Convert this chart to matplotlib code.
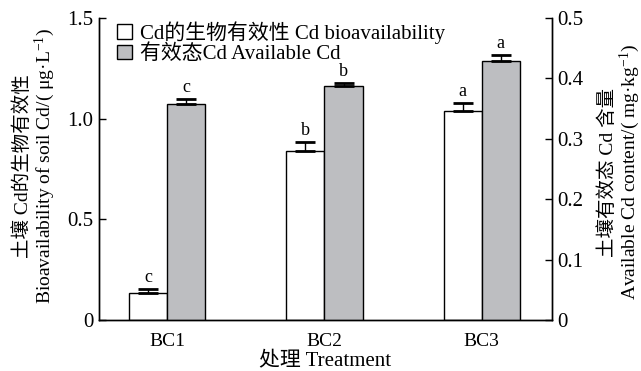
import numpy as np
import matplotlib
matplotlib.use("Agg")
import matplotlib.pyplot as plt
from matplotlib.patches import Patch

plt.rcParams['font.family'] = ['Liberation Serif', 'Noto Sans CJK SC']
plt.rcParams['mathtext.fontset'] = 'custom'
plt.rcParams['mathtext.rm'] = 'Liberation Serif'
plt.rcParams['mathtext.it'] = 'Liberation Serif:italic'

# data
treatments = ['BC1', 'BC2', 'BC3']
bioavail = [0.132, 0.84, 1.04]          # left axis, ug/L
bioavail_err = [0.021, 0.045, 0.04]
bioavail_sig = ['c', 'b', 'a']
avail_cd = [0.357, 0.388, 0.429]        # right axis, mg/kg
avail_cd_err = [0.009, 0.0045, 0.009]
avail_cd_sig = ['c', 'b', 'a']

gray = '#bdbec1'

fig = plt.figure(figsize=(6.41, 3.71), dpi=100)
ax = fig.add_axes([99 / 641, 1 - 320 / 371, (552 - 99) / 641, (320 - 18) / 371])
ax2 = ax.twinx()

x = np.arange(len(treatments))
w = 0.242

ax.bar(x - w / 2, bioavail, w, color='white', edgecolor='black', linewidth=1.0, zorder=2)
ax.errorbar(x - w / 2, bioavail, yerr=[np.zeros(3), bioavail_err], fmt='none',
            ecolor='black', elinewidth=1.0, capsize=7, capthick=2, zorder=3)
ax2.bar(x + w / 2, avail_cd, w, color=gray, edgecolor='black', linewidth=1.0, zorder=2)
ax2.errorbar(x + w / 2, avail_cd, yerr=[np.zeros(3), avail_cd_err], fmt='none',
             ecolor='black', elinewidth=1.0, capsize=7, capthick=2, zorder=3)

for xi, v, e, s in zip(x, bioavail, bioavail_err, bioavail_sig):
    ax.text(xi - w / 2, v + e + 0.015, s, ha='center', va='bottom', fontsize=13)
for xi, v, e, s in zip(x, avail_cd, avail_cd_err, avail_cd_sig):
    ax2.text(xi + w / 2, v + e + 0.005, s, ha='center', va='bottom', fontsize=13)

ax.set_xlim(-0.433, 2.446)
ax.set_ylim(0, 1.5)
ax2.set_ylim(0, 0.5)
ax.set_xticks(x)
ax.set_xticklabels(treatments, fontsize=14)
ax.set_yticks([0, 0.5, 1.0, 1.5])
ax.set_yticklabels(['0', '0.5', '1.0', '1.5'], fontsize=15)
ax2.set_yticks([0, 0.1, 0.2, 0.3, 0.4, 0.5])
ax2.set_yticklabels(['0', '0.1', '0.2', '0.3', '0.4', '0.5'], fontsize=15)

ax.tick_params(axis='y', direction='in', length=5, width=1, pad=4)
ax2.tick_params(axis='y', direction='in', length=5, width=1, pad=4)
ax.tick_params(axis='x', length=0, pad=9)
for a in (ax, ax2):
    a.spines['top'].set_visible(False)
    for sp in ('left', 'right', 'bottom'):
        a.spines[sp].set_linewidth(1.0)

ax.set_xlabel('处理 Treatment', fontsize=15, labelpad=2)

# two-line axis titles
fig.text(35 / 641, 1 - 166 / 371,
         '土壤 Cd的生物有效性\nBioavailability of soil Cd/( μg·L$^{-1}$)',
         rotation=90, ha='center', va='center', ma='center',
         fontsize=14, linespacing=1.0)
fig.text(620 / 641, 1 - 172 / 371,
         '土壤有效态 Cd 含量\nAvailable Cd content/( mg·kg$^{-1}$)',
         rotation=90, ha='center', va='center', ma='center',
         fontsize=14, linespacing=1.0)

handles = [Patch(facecolor='white', edgecolor='black', linewidth=1.0),
           Patch(facecolor=gray, edgecolor='black', linewidth=1.0)]
labels = ['Cd的生物有效性 Cd bioavailability', '有效态Cd Available Cd']
ax2.legend(handles, labels, loc='upper left', bbox_to_anchor=(0.04, 0.99),
           frameon=False, fontsize=15, handlelength=0.7, handleheight=0.7,
           handletextpad=0.4, labelspacing=0.05, borderaxespad=0, borderpad=0)

fig.savefig('out.png', dpi=100)
